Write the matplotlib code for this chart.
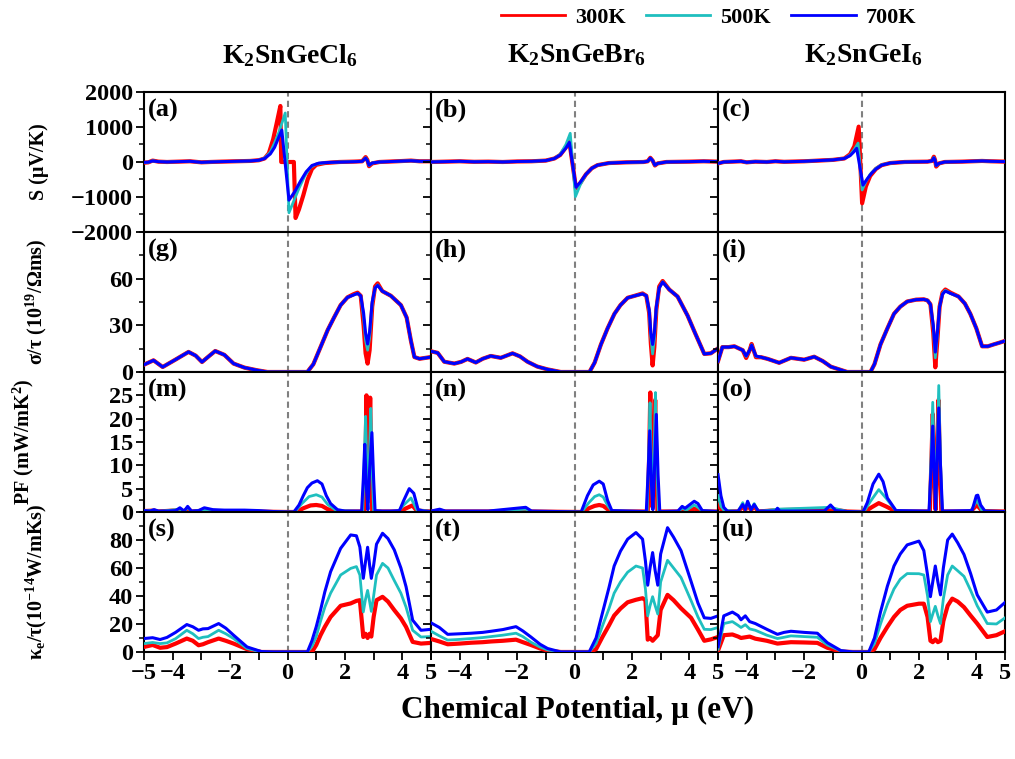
import matplotlib
matplotlib.use("Agg")
import matplotlib.pyplot as plt
from matplotlib.ticker import MultipleLocator
from matplotlib.lines import Line2D

plt.rcParams["font.family"] = ["Liberation Serif", "DejaVu Serif"]
plt.rcParams["font.weight"] = "bold"
plt.rcParams["axes.labelweight"] = "bold"
plt.rcParams["mathtext.fontset"] = "custom"
plt.rcParams["mathtext.rm"] = "Liberation Serif:bold"
plt.rcParams["mathtext.it"] = "Liberation Serif:bold"
plt.rcParams["mathtext.bf"] = "Liberation Serif:bold"
plt.rcParams["mathtext.default"] = "rm"

temps = ["300K", "500K", "700K"]
colors = ["#ff0000", "#1fbfbf", "#0000ff"]
widths = [3.0, 2.0, 2.2]
compounds = ["K$_2$SnGeCl$_6$", "K$_2$SnGeBr$_6$", "K$_2$SnGeI$_6$"]
panel_tags = [["(a)", "(b)", "(c)"], ["(g)", "(h)", "(i)"],
              ["(m)", "(n)", "(o)"], ["(s)", "(t)", "(u)"]]
row_labels = ["S (μV/K)", "σ/τ (10$^{19}$/Ωms)", "PF (mW/mK$^2$)",
              "κ$_e$/τ(10$^{-14}$W/mKs)"]

# ---- Seebeck S (uV/K) ----
mu_a_300 = [-5, -4.85, -4.7, -4.5, -4.2, -3.8, -3.4, -3.0, -2.7, -2.3, -1.8, -1.3, -1.0, -0.8, -0.65, -0.5,
            -0.38, -0.25, -0.22, 0.22, 0.28, 0.4, 0.55, 0.7, 0.85, 1.0, 1.3, 1.8, 2.3, 2.6, 2.72, 2.78,
            2.84, 2.95, 3.2, 3.8, 4.3, 4.6, 5]
s_a_300 = [-20, -10, 40, 10, 0, 10, 20, -10, 0, 10, 20, 30, 50, 100, 250, 650, 1100, 1600, 0, 0, -1600,
           -1350, -950, -500, -200, -80, -30, 0, 10, 20, 140, 60, -120, -40, 0, 20, 40, 20, 20]
mu_a_500 = [-5, -4.85, -4.7, -4.5, -4.2, -3.8, -3.4, -3.0, -2.7, -2.3, -1.8, -1.3, -1.0, -0.8, -0.6, -0.45,
            -0.3, -0.08, 0.05, 0.2, 0.4, 0.6, 0.8, 1.0, 1.3, 1.8, 2.3, 2.6, 2.72, 2.78, 2.84, 2.95, 3.2,
            3.8, 4.3, 4.6, 5]
s_a_500 = [-15, -10, 35, 10, 0, 10, 20, -10, 0, 10, 20, 30, 50, 110, 280, 550, 850, 1400, -1450, -1150,
           -750, -400, -150, -60, -25, 0, 10, 20, 120, 50, -100, -30, 0, 20, 35, 20, 20]
mu_a_700 = [-5, -4.85, -4.7, -4.5, -4.2, -3.8, -3.4, -3.0, -2.7, -2.3, -1.8, -1.3, -1.0, -0.8, -0.6, -0.45,
            -0.32, -0.2, 0.05, 0.25, 0.45, 0.65, 0.85, 1.1, 1.5, 2.0, 2.4, 2.6, 2.72, 2.78, 2.84, 2.95,
            3.2, 3.8, 4.3, 4.6, 5]
s_a_700 = [-10, -5, 30, 10, 0, 10, 20, -10, 0, 10, 20, 30, 50, 100, 230, 420, 680, 910, -1090, -850,
           -550, -280, -100, -30, -10, 0, 10, 20, 110, 40, -90, -30, 0, 20, 35, 20, 20]

mu_b_300 = [-5, -4.5, -4.0, -3.5, -3.0, -2.5, -2.0, -1.5, -1.0, -0.7, -0.5, -0.3, -0.18, 0.05, 0.2, 0.4,
            0.6, 0.8, 1.2, 1.8, 2.4, 2.55, 2.64, 2.72, 2.8, 2.9, 3.2, 4.0, 4.5, 5]
s_b_300 = [0, 10, 20, 5, 10, 0, 15, 20, 40, 100, 200, 420, 580, -750, -600, -350, -180, -90, -30, -10, 0,
           20, 120, 40, -100, -40, 0, 10, 20, 10]
mu_b_500 = [-5, -4.5, -4.0, -3.5, -3.0, -2.5, -2.0, -1.5, -1.0, -0.7, -0.5, -0.3, -0.15, 0.03, 0.2, 0.4,
            0.6, 0.8, 1.2, 1.8, 2.4, 2.55, 2.64, 2.72, 2.8, 2.9, 3.2, 4.0, 4.5, 5]
s_b_500 = [0, 10, 20, 5, 10, 0, 15, 20, 40, 100, 220, 500, 820, -990, -650, -350, -180, -90, -30, -10, 0,
           20, 110, 40, -90, -40, 0, 10, 20, 10]
mu_b_700 = [-5, -4.5, -4.0, -3.5, -3.0, -2.5, -2.0, -1.5, -1.0, -0.7, -0.5, -0.3, -0.18, 0.05, 0.2, 0.4,
            0.6, 0.8, 1.2, 1.8, 2.4, 2.55, 2.64, 2.72, 2.8, 2.9, 3.2, 4.0, 4.5, 5]
s_b_700 = [0, 10, 20, 5, 10, 0, 15, 20, 40, 100, 200, 400, 560, -720, -580, -350, -180, -90, -30, -10, 0,
           20, 110, 40, -90, -40, 0, 10, 20, 10]

mu_c_300 = [-5, -4.8, -4.5, -4.2, -4.0, -3.7, -3.3, -3.0, -2.7, -2.0, -1.5, -1.0, -0.6, -0.4, -0.25, -0.1,
            0.02, 0.15, 0.3, 0.5, 0.7, 1.0, 1.5, 2.3, 2.45, 2.52, 2.56, 2.6, 2.7, 2.9, 3.5, 4.2, 4.5, 5]
s_c_300 = [-40, 0, 10, 20, -10, 10, 0, 20, 5, 20, 40, 60, 100, 220, 450, 1010, -1180, -700, -400, -200,
           -90, -30, 0, 10, 30, 150, 60, -130, -40, 0, 10, 30, 20, 10]
mu_c_500 = [-5, -4.8, -4.5, -4.2, -4.0, -3.7, -3.3, -3.0, -2.7, -2.0, -1.5, -1.0, -0.6, -0.4, -0.25, -0.12,
            0.02, 0.15, 0.3, 0.5, 0.7, 1.0, 1.5, 2.3, 2.45, 2.52, 2.56, 2.6, 2.7, 2.9, 3.5, 4.2, 4.5, 5]
s_c_500 = [-40, 0, 10, 20, -10, 10, 0, 20, 5, 20, 40, 60, 100, 200, 360, 540, -800, -560, -350, -180,
           -80, -30, 0, 10, 30, 130, 50, -110, -40, 0, 10, 30, 20, 10]
mu_c_700 = [-5, -4.8, -4.5, -4.2, -4.0, -3.7, -3.3, -3.0, -2.7, -2.0, -1.5, -1.0, -0.6, -0.4, -0.28, -0.17,
            0.05, 0.2, 0.35, 0.5, 0.7, 1.0, 1.5, 2.3, 2.45, 2.52, 2.56, 2.6, 2.7, 2.9, 3.5, 4.2, 4.5, 5]
s_c_700 = [-40, 0, 10, 20, -10, 10, 0, 20, 5, 20, 40, 60, 100, 180, 280, 390, -660, -480, -320, -200,
           -90, -30, 0, 10, 30, 120, 50, -100, -40, 0, 10, 30, 20, 10]

# ---- sigma/tau ----
mu_g = [-5, -4.67, -4.35, -3.9, -3.45, -3.2, -2.98, -2.75, -2.52, -2.2, -1.88, -1.5, -1.06, -0.7, 0.69,
        0.9, 1.15, 1.4, 1.62, 1.85, 2.09, 2.3, 2.44, 2.55, 2.65, 2.72, 2.79, 2.86, 2.95, 3.05, 3.14, 3.3,
        3.6, 3.95, 4.15, 4.3, 4.42, 4.6, 5]
sig_g_300 = [4.7, 7.5, 3.2, 8, 12.9, 10.5, 6.4, 10, 13.5, 11, 5.4, 2.8, 1.1, 0, 0, 5, 16, 27, 35, 43, 48,
             50, 51, 49, 30, 12, 5.4, 14, 42, 55, 57, 52, 49, 43, 35, 20, 9.6, 8.5, 9.6]
sig_g_500 = [4.7, 7.5, 3.2, 8, 12.9, 10.5, 6.4, 10, 13.5, 11, 5.4, 2.8, 1.1, 0, 0, 5, 16, 27, 35, 43, 48,
             49.5, 50.5, 49, 35, 20, 14, 22, 44, 54, 56, 52, 49, 43, 35, 20, 9.6, 8.5, 9.6]
sig_g_700 = [4.7, 7.5, 3.2, 8, 12.9, 10.5, 6.4, 10, 13.5, 11, 5.4, 2.8, 1.1, 0, 0, 5, 16, 27, 35, 43, 48,
             49.5, 50.5, 49, 38, 25, 18, 26, 45, 54, 55.7, 52, 49, 43, 35, 20, 9.6, 8.5, 9.6]

mu_h = [-5, -4.77, -4.54, -4.19, -3.95, -3.73, -3.44, -3.2, -2.92, -2.57, -2.16, -1.9, -1.64, -1.3, -0.95,
        -0.48, 0.52, 0.7, 0.92, 1.15, 1.39, 1.6, 1.85, 2.1, 2.37, 2.5, 2.6, 2.66, 2.72, 2.78, 2.85, 2.95,
        3.07, 3.3, 3.59, 3.94, 4.2, 4.52, 4.75, 5]
sig_h_300 = [13.3, 12.3, 6.6, 5.4, 6.5, 8.4, 6.1, 8.5, 10.3, 9.1, 12, 10, 6.6, 3.5, 1.7, 0, 0, 6, 17.7,
             28, 37.4, 43, 47.7, 49, 50.5, 49, 38, 18, 4.2, 16, 40, 55, 58.5, 53, 48.5, 36.2, 25, 11.6,
             12, 15.2]
sig_h_500 = [13.3, 12.3, 6.6, 5.4, 6.5, 8.4, 6.1, 8.5, 10.3, 9.1, 12, 10, 6.6, 3.5, 1.7, 0, 0, 6, 17.7,
             28, 37.4, 43, 47.7, 49, 50.2, 49, 39, 22, 11.6, 21, 41, 54, 58, 53, 48.5, 36.2, 25, 11.6,
             12, 15.2]
sig_h_700 = [13.3, 12.3, 6.6, 5.4, 6.5, 8.4, 6.1, 8.5, 10.3, 9.1, 12, 10, 6.6, 3.5, 1.7, 0, 0, 6, 17.7,
             28, 37.4, 43, 47.7, 49, 50.2, 49, 40, 25, 17.7, 25, 42, 54, 57.8, 53, 48.5, 36.2, 25, 11.6,
             12, 15.2]

mu_i = [-5, -4.85, -4.63, -4.43, -4.14, -4.02, -3.9, -3.83, -3.68, -3.5, -3.27, -2.87, -2.46, -2.0,
        -1.65, -1.35, -1.07, -0.5, 0.31, 0.45, 0.66, 0.9, 1.13, 1.35, 1.59, 1.9, 2.17, 2.3, 2.4, 2.5,
        2.57, 2.64, 2.72, 2.82, 2.92, 3.1, 3.38, 3.6, 3.79, 4.0, 4.2, 4.4, 4.6, 4.8, 5]
sig_i_300 = [7, 16, 16, 16.5, 14, 9, 14, 18, 9.5, 9.5, 8.4, 5.9, 9.1, 7.9, 9.8, 7, 3.4, 0, 0, 5, 17.7,
             28, 37.4, 42, 45.3, 46.5, 46.7, 46, 43.5, 25, 3, 20, 42, 51, 53, 51, 48.5, 44, 37.4, 28,
             16.5, 16.5, 17.7, 18.8, 20]
sig_i_500 = [7, 16, 16, 16.5, 14, 10, 14, 17.5, 10, 9.5, 8.4, 5.9, 9.1, 7.9, 9.8, 7, 3.4, 0, 0, 5, 17.7,
             28, 37.4, 42, 45.3, 46.5, 46.7, 46, 43.5, 28, 9.1, 23, 42, 50.5, 52.5, 50.5, 48.5, 44, 37.4,
             28, 16.5, 16.5, 17.7, 18.8, 20]
sig_i_700 = [7, 16, 16, 16.5, 14, 10.3, 14, 17.2, 10.3, 9.5, 8.4, 5.9, 9.1, 7.9, 9.8, 7, 3.4, 0, 0, 5,
             17.7, 28, 37.4, 42, 45.3, 46.5, 46.7, 46, 43.5, 30, 12.8, 25, 42, 50, 52, 50.5, 48.5, 44,
             37.4, 28, 16.5, 16.5, 17.7, 18.8, 20]

# ---- power factor ----
mu_m_300 = [-5, -4.65, -4.5, -3.75, -3.6, -3.48, -3.35, -2.9, -2.5, 0, 0.3, 0.55, 0.8, 1.0, 1.2, 1.4, 1.7,
            2.6, 2.68, 2.72, 2.75, 2.78, 2.81, 2.84, 2.88, 2.91, 2.95, 3.1, 3.9, 4.1, 4.35, 4.5, 5]
pf_m_300 = [0.2, 0.3, 0.1, 0.4, 0.1, 0.8, 0.1, 0.3, 0.2, 0, 0, 0.8, 1.4, 1.5, 1.3, 0.6, 0.1, 0.1, 0.2, 12,
            25, 12, 3, 12, 24.5, 12, 0.2, 0.1, 0.1, 0.7, 1.4, 0.3, 0.1]
mu_m_500 = [-5, -4.65, -4.5, -3.75, -3.6, -3.48, -3.35, -2.9, -2.5, 0, 0.25, 0.5, 0.75, 1.0, 1.2, 1.4,
            1.7, 2.55, 2.62, 2.67, 2.72, 2.77, 2.81, 2.85, 2.9, 2.95, 3.0, 3.1, 3.85, 4.05, 4.3, 4.5, 5]
pf_m_500 = [0.2, 0.4, 0.1, 0.6, 0.1, 1.0, 0.1, 0.5, 0.3, 0, 0, 1.8, 3.3, 3.7, 3.2, 1.6, 0.3, 0.1, 0.2, 10,
            20.5, 8, 2, 11, 22.2, 9, 0.2, 0.1, 0.1, 1.5, 3.0, 0.5, 0.1]
mu_m_700 = [-5, -4.8, -4.65, -4.5, -4.2, -3.9, -3.75, -3.6, -3.48, -3.35, -3.1, -2.9, -2.6, -2.2, -1.5,
            -1.0, -0.5, 0, 0.22, 0.4, 0.55, 0.69, 0.85, 1.04, 1.2, 1.35, 1.5, 1.74, 2.0, 2.58, 2.64, 2.69,
            2.74, 2.8, 2.86, 2.94, 3.0, 3.05, 3.3, 3.6, 3.9, 4.05, 4.24, 4.4, 4.55, 4.75, 5]
pf_m_700 = [0.3, 0.2, 0.5, 0.2, 0.2, 0.3, 0.9, 0.2, 1.2, 0.2, 0.3, 0.9, 0.5, 0.4, 0.4, 0.3, 0.1, 0, 0,
            1.5, 3.5, 5.2, 6.2, 6.7, 6, 3.5, 1.8, 0.5, 0.2, 0.2, 7, 14.5, 6, 0.5, 9, 17, 7, 0.3, 0.2,
            0.2, 0.3, 2.5, 5.0, 4, 0.5, 0.2, 0.1]

mu_n_300 = [-5, -4.7, -4.5, -3.0, -1.7, -1.5, 0.3, 0.5, 0.7, 0.86, 1.0, 1.15, 1.3, 2.55, 2.6, 2.64, 2.68,
            2.72, 2.76, 2.81, 2.85, 2.89, 3.6, 3.75, 3.9, 4.17, 4.3, 4.45, 5]
pf_n_300 = [0.1, 0.3, 0.1, 0.1, 0.4, 0.1, 0, 0.8, 1.3, 1.5, 1.3, 0.6, 0.1, 0.1, 12, 25.6, 10, 1, 10, 24,
            10, 0.1, 0.1, 0.4, 0.2, 0.7, 0.5, 0.1, 0.1]
mu_n_500 = [-5, -4.7, -4.5, -3.0, -1.7, -1.5, 0.25, 0.5, 0.7, 0.86, 1.0, 1.15, 1.3, 2.53, 2.58, 2.63,
            2.68, 2.72, 2.77, 2.82, 2.87, 2.92, 3.6, 3.75, 3.9, 4.17, 4.3, 4.45, 5]
pf_n_500 = [0.1, 0.4, 0.1, 0.1, 0.6, 0.1, 0, 2.0, 3.3, 3.7, 3.2, 1.4, 0.2, 0.1, 11, 23.4, 8, 1, 12, 25.6,
            10, 0.1, 0.1, 0.8, 0.4, 1.5, 1.0, 0.2, 0.1]
mu_n_700 = [-5, -4.7, -4.5, -3.0, -1.7, -1.5, 0.23, 0.45, 0.65, 0.86, 1.0, 1.15, 1.3, 2.5, 2.56, 2.62,
            2.68, 2.73, 2.79, 2.85, 2.91, 2.97, 3.6, 3.75, 3.85, 4.17, 4.3, 4.45, 5]
pf_n_700 = [0.2, 0.6, 0.2, 0.2, 1.0, 0.2, 0, 3.5, 5.8, 6.6, 6.0, 2.5, 0.3, 0.1, 8, 17.4, 6, 0.5, 10,
            20.9, 8, 0.1, 0.2, 1.2, 0.8, 2.3, 1.8, 0.3, 0.1]

mu_o_300 = [-5, -4.9, -4.8, -4.3, -4.14, -4.05, -3.97, -3.85, -3.74, -3.6, -2.93, -1.08, -0.5, 0.1, 0.35,
            0.6, 0.85, 1.2, 2.38, 2.43, 2.48, 2.53, 2.58, 2.63, 2.68, 2.73, 2.78, 3.8, 4.02, 4.2, 5]
pf_o_300 = [1.5, 0.6, 0.2, 0.1, 1.2, 0.4, 1.5, 0.4, 1.2, 0.1, 0.4, 0.6, 0.1, 0, 1.0, 1.9, 1.2, 0.1, 0.1,
            10, 21, 9, 0.5, 11, 24, 10, 0.1, 0.1, 1.5, 0.2, 0.1]
mu_o_500 = [-5, -4.9, -4.8, -4.3, -4.14, -4.05, -3.97, -3.85, -3.74, -3.6, -2.93, -1.08, -0.5, 0.08, 0.3,
            0.6, 0.85, 1.2, 2.36, 2.42, 2.48, 2.54, 2.58, 2.63, 2.69, 2.75, 2.81, 3.8, 4.02, 4.2, 5]
pf_o_500 = [3.5, 1.2, 0.4, 0.1, 2.0, 0.5, 2.2, 0.5, 1.8, 0.1, 0.6, 1.0, 0.1, 0, 2.2, 4.8, 3.0, 0.2, 0.1,
            11, 23.5, 10, 0.5, 12, 27.1, 11, 0.1, 0.1, 2.5, 0.2, 0.1]
mu_o_700 = [-5, -4.9, -4.8, -4.66, -4.3, -4.14, -4.05, -3.97, -3.85, -3.74, -3.6, -3.0, -2.93, -2.85, -1.3,
            -1.08, -0.9, -0.5, 0.05, 0.2, 0.4, 0.6, 0.75, 0.9, 1.2, 2.35, 2.42, 2.48, 2.54, 2.58, 2.63,
            2.69, 2.75, 2.82, 3.85, 4.0, 4.05, 4.15, 4.3, 5]
pf_o_700 = [8, 3.5, 1, 0.1, 0.2, 1.6, 0.5, 2.3, 0.5, 1.6, 0.2, 0.2, 0.8, 0.2, 0.2, 1.5, 0.3, 0.1, 0, 2,
            6, 8.1, 6.5, 3, 0.3, 0.2, 9, 18.4, 8, 0.5, 10, 22.3, 10, 0.2, 0.3, 3.5, 3.6, 1.5, 0.2, 0.1]

# ---- electronic thermal conductivity ----
mu_s = [-5, -4.7, -4.44, -4.2, -3.9, -3.51, -3.3, -3.1, -2.95, -2.77, -2.4, -2.15, -1.88, -1.41, -0.91,
        -0.5, 0.69, 0.85, 1.0, 1.15, 1.3, 1.5, 1.85, 2.2, 2.4, 2.52, 2.64, 2.72, 2.79, 2.86, 2.92, 3.0,
        3.1, 3.31, 3.5, 3.72, 3.95, 4.13, 4.36, 4.65, 5]
k_s_300 = [3.6, 5.0, 3, 3.5, 6, 9.6, 8, 4.8, 5.5, 7, 9.6, 8, 6, 2, 0, 0, 0, 0, 5, 12, 18, 25, 33, 34.7,
           36.5, 37, 10.7, 13, 10, 13, 11, 25, 37, 39.4, 36, 29.9, 24, 17.9, 7.2, 6, 6.5]
k_s_500 = [6, 6.8, 6, 6.5, 9.5, 15.5, 13, 9.6, 10.5, 11, 15.5, 13, 9.6, 2.5, 0, 0, 0, 4, 11, 22, 32, 42,
           55, 59.7, 61, 55, 28.6, 38, 44, 36, 29, 40, 55, 63.3, 60, 51, 42, 32, 15.5, 10.7, 11]
k_s_700 = [9.6, 10.2, 8.9, 10.4, 14, 19.6, 18, 15.5, 16.5, 16.7, 20.3, 17, 12, 3.6, 0.3, 0, 0, 8, 18,
           29.9, 43, 57.3, 74, 83.6, 83, 75, 52.6, 65, 74.8, 62, 52.6, 62, 77, 84.8, 81, 72.9, 60, 46.6,
           22.7, 15.5, 16.2]

mu_t = [-5, -4.71, -4.42, -4.0, -3.61, -3.2, -2.91, -2.5, -2.04, -1.8, -1.52, -1.2, -0.94, -0.48, 0.51,
        0.75, 0.98, 1.2, 1.38, 1.6, 1.85, 2.14, 2.37, 2.47, 2.55, 2.63, 2.72, 2.81, 2.9, 3.0, 3.24, 3.45,
        3.71, 4.06, 4.3, 4.52, 4.75, 5]
k_t_300 = [9.3, 7.5, 5.5, 6, 6.6, 7, 7.5, 8, 8.8, 7, 5, 2.5, 1, 0, 0, 2, 11, 19, 26, 31, 35.5, 37.3,
           38.4, 37, 8.8, 10, 8, 10, 12, 30, 40.8, 37, 31.2, 24.4, 16, 8, 9, 10.7]
k_t_500 = [14.8, 11.5, 8.5, 9, 9.6, 10.3, 11, 12, 13.4, 11, 7, 3.5, 1.5, 0, 0, 6, 19, 31, 42, 50, 57,
           61.4, 60, 45, 25.8, 33, 39.5, 33, 27.1, 50, 65.5, 60, 53.2, 36.7, 25, 16.2, 16, 17.5]
k_t_700 = [20.8, 17.5, 12.6, 13, 13.4, 14, 14.8, 16, 18.1, 15, 10.7, 5.5, 2.5, 0, 0, 10, 28.5, 46, 61.4,
           72, 80.6, 85.3, 80.6, 65, 47.7, 60, 71, 58, 47.7, 70, 88.8, 82, 72.4, 50.4, 35, 24.4, 24, 25.8]

mu_u = [-5, -4.8, -4.5, -4.3, -4.2, -4.05, -3.9, -3.7, -3.3, -2.93, -2.7, -2.46, -2.0, -1.54, -1.19,
        -0.72, -0.3, 0.25, 0.45, 0.66, 0.9, 1.13, 1.35, 1.59, 2.0, 2.17, 2.3, 2.4, 2.48, 2.57, 2.66, 2.75,
        2.85, 3.0, 3.16, 3.35, 3.57, 3.8, 4.03, 4.38, 4.7, 5]
k_u_300 = [1, 12, 12.5, 11, 10, 10.5, 11, 9.5, 8, 6, 6.5, 7, 6.8, 6.5, 3, 0.3, 0, 0, 2, 10, 18, 25, 30,
           33, 34.5, 34.5, 25, 8, 7, 9, 7, 8, 22, 33, 38.1, 36, 32, 26, 20.3, 10.7, 12, 14.8]
k_u_500 = [2, 20.3, 21.7, 19, 17.5, 19.5, 16.5, 15.5, 12, 9.6, 10.5, 11.5, 11, 10.5, 5, 0.8, 0, 0, 6, 20,
           34, 45, 52, 56, 55.9, 55, 40, 21.7, 27, 32.6, 26, 20.3, 38, 55, 61.4, 58, 54, 44, 33, 20.3,
           20, 24.4]
k_u_700 = [3.8, 25.8, 28.5, 26, 23, 25.8, 21.7, 20.3, 16.2, 12.6, 14, 14.8, 14, 13.4, 6.6, 1, 0, 0, 10,
           28.5, 47, 61.4, 70, 76.5, 79.2, 72.4, 55, 39.5, 50, 61.4, 50, 40.8, 60, 80, 84.2, 78, 69.6,
           56, 40.8, 28.5, 30, 35.4]

grid = [
    [[(mu_a_300, s_a_300), (mu_a_500, s_a_500), (mu_a_700, s_a_700)],
     [(mu_b_300, s_b_300), (mu_b_500, s_b_500), (mu_b_700, s_b_700)],
     [(mu_c_300, s_c_300), (mu_c_500, s_c_500), (mu_c_700, s_c_700)]],
    [[(mu_g, sig_g_300), (mu_g, sig_g_500), (mu_g, sig_g_700)],
     [(mu_h, sig_h_300), (mu_h, sig_h_500), (mu_h, sig_h_700)],
     [(mu_i, sig_i_300), (mu_i, sig_i_500), (mu_i, sig_i_700)]],
    [[(mu_m_300, pf_m_300), (mu_m_500, pf_m_500), (mu_m_700, pf_m_700)],
     [(mu_n_300, pf_n_300), (mu_n_500, pf_n_500), (mu_n_700, pf_n_700)],
     [(mu_o_300, pf_o_300), (mu_o_500, pf_o_500), (mu_o_700, pf_o_700)]],
    [[(mu_s, k_s_300), (mu_s, k_s_500), (mu_s, k_s_700)],
     [(mu_t, k_t_300), (mu_t, k_t_500), (mu_t, k_t_700)],
     [(mu_u, k_u_300), (mu_u, k_u_500), (mu_u, k_u_700)]],
]

ylims = [(-2000, 2000), (0, 90), (0, 30), (0, 100)]
yticks = [[-2000, -1000, 0, 1000, 2000], [0, 30, 60], [0, 5, 10, 15, 20, 25], [0, 20, 40, 60, 80]]
yminor = [500, 15, 2.5, 10]
label_x = [-0.33, -0.33, -0.375, -0.33]

fig, axes = plt.subplots(4, 3, figsize=(10.15, 7.59), dpi=100)
fig.subplots_adjust(left=0.1419, right=0.9902, top=0.8788, bottom=0.141, wspace=0, hspace=0)

for r in range(4):
    for c in range(3):
        ax = axes[r, c]
        for k, (mu, vals) in enumerate(grid[r][c]):
            ax.plot(mu, vals, color=colors[k], lw=widths[k], label=temps[k], zorder=3 + k)
        ax.axvline(0, color="#808080", ls="--", lw=1.5, dashes=(3, 2), zorder=2)
        ax.set_xlim(-5, 5)
        ax.set_ylim(*ylims[r])
        ax.set_yticks(yticks[r])
        ax.yaxis.set_minor_locator(MultipleLocator(yminor[r]))
        ax.set_xticks(range(-5, 6))
        if c == 0:
            xl = ["−5", "−4", "", "−2", "", "0", "", "2", "", "4", "5"]
        else:
            xl = ["", "−4", "", "−2", "", "0", "", "2", "", "4", "5"]
        ax.set_xticklabels(xl if r == 3 else [""] * 11)
        ax.tick_params(which="major", direction="out", length=6, width=1.3, labelsize=17.5, pad=2)
        ax.tick_params(which="minor", direction="out", length=3.5, width=1.1)
        ax.tick_params(axis="y", labelleft=(c == 0))
        for sp in ax.spines.values():
            sp.set_linewidth(1.5)
        ax.text(0.015, 0.95, panel_tags[r][c], transform=ax.transAxes, va="top", ha="left",
                fontsize=19, fontweight="bold")
    axes[r, 0].set_ylabel(row_labels[r], fontsize=14.5, fontweight="bold")
    axes[r, 0].yaxis.set_label_coords(label_x[r], 0.5)

for c in range(3):
    pos = axes[0, c].get_position()
    fig.text((pos.x0 + pos.x1) / 2 + 0.002, 0.927, compounds[c], ha="center", va="center",
             fontsize=20, fontweight="bold")

handles = [Line2D([], [], color=colors[k], lw=2) for k in range(3)]
fig.legend(handles, temps, loc="center", bbox_to_anchor=(0.698, 0.977), ncol=3, frameon=False,
           fontsize=16, handlelength=2.9, columnspacing=0.9, handletextpad=0.45)

fig.text(0.569, 0.064, "Chemical Potential, μ (eV)", ha="center", va="center", fontsize=22.5,
         fontweight="bold")

fig.savefig("out.png", dpi=100)
